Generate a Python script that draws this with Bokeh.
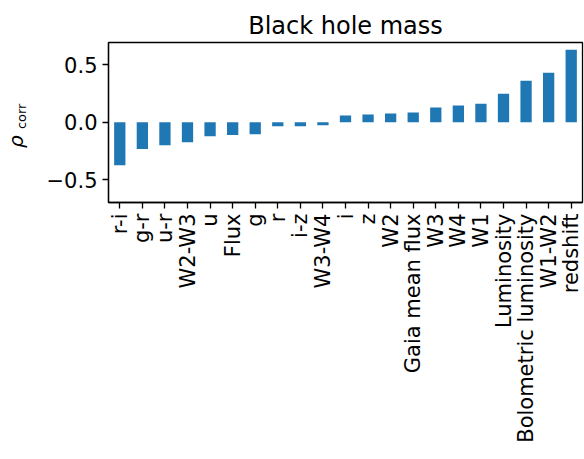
from math import pi
from bokeh.plotting import figure
from bokeh.models import FixedTicker, LinearAxis, ColumnDataSource
from bokeh.embed import file_html
from bokeh.resources import INLINE

categories = ["r-i", "g-r", "u-r", "W2-W3", "u", "Flux", "g", "r", "i-z", "W3-W4",
              "i", "z", "W2", "Gaia mean flux", "W3", "W4", "W1", "Luminosity",
              "Bolometric luminosity", "W1-W2", "redshift"]
values = [-0.374, -0.233, -0.199, -0.173, -0.121, -0.112, -0.104, -0.035, -0.035, -0.026,
          0.058, 0.066, 0.075, 0.084, 0.127, 0.144, 0.161, 0.248, 0.360, 0.429, 0.628]
y_ticks = [-0.5, 0.0, 0.5]
y_tick_labels = ["\u22120.5", "0.0", "0.5"]
NBSP = "\u00a0"

FONT = "DejaVu Sans"

p = figure(x_range=categories, y_range=(-0.697, 0.692), width=584, height=459,
           output_backend="svg", toolbar_location=None, title="Black hole mass",
           min_border_left=108, min_border_right=2, min_border_top=42,
           min_border_bottom=257)

src = ColumnDataSource(dict(cat=categories, val=values))
p.vbar(x="cat", top="val", bottom=0, width=0.5, source=src, color="#1f77b4", line_color=None)

p.title.align = "center"
p.title.text_font = FONT
p.title.text_font_size = "24px"
p.title.text_font_style = "normal"
p.title.text_color = "black"
p.title.standoff = 6

p.grid.visible = False
p.outline_line_color = "black"
p.outline_line_width = 1.3
p.background_fill_color = "white"
p.border_fill_color = "white"

for ax in (p.xaxis[0], p.yaxis[0]):
    ax.major_label_text_font = FONT
    ax.major_label_text_font_size = "21px"
    ax.major_label_text_color = "black"
    ax.axis_line_color = "black"
    ax.axis_line_width = 1.3
    ax.major_tick_line_color = "black"
    ax.major_tick_line_width = 1.3
    ax.major_tick_in = 0
    ax.major_tick_out = 6
    ax.minor_tick_line_color = None

p.xaxis.major_label_orientation = pi / 2
p.xaxis.major_label_standoff = 5
p.x_range.range_padding = 0
p.yaxis.ticker = FixedTicker(ticks=y_ticks)
p.yaxis.major_label_overrides = dict(zip(y_ticks, y_tick_labels))
p.yaxis.major_label_standoff = 5

# subscript part of the y label, on the main y axis
p.yaxis.axis_label = NBSP * 3 + "corr"
p.yaxis.axis_label_text_font = FONT
p.yaxis.axis_label_text_font_size = "13px"
p.yaxis.axis_label_text_font_style = "normal"
p.yaxis.axis_label_text_color = "black"
p.yaxis.axis_label_standoff = 15

# main symbol of the y label, on an outer tick-less axis
rho_axis = LinearAxis(ticker=FixedTicker(ticks=[]), axis_label="ρ" + NBSP * 6,
                      axis_line_color=None, major_tick_line_color=None,
                      minor_tick_line_color=None, major_tick_out=0, major_tick_in=0,
                      major_label_standoff=0, major_label_text_font_size="0px",
                      axis_label_standoff=-17, axis_label_text_font=FONT,
                      axis_label_text_font_size="20px", axis_label_text_font_style="italic",
                      axis_label_text_color="black")
p.add_layout(rho_axis, "left")

open("out.html", "w").write(file_html(p, INLINE))
